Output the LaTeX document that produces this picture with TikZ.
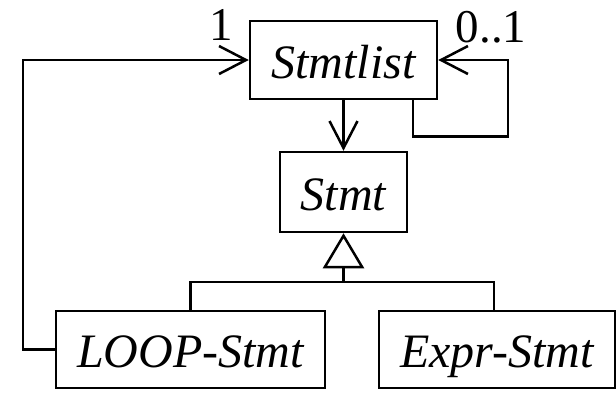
\documentclass[tikz,border=0pt]{standalone}
\usepackage{fontspec}
\setmainfont{Liberation Serif}
\usetikzlibrary{arrows.meta}
\begin{document}
\begin{tikzpicture}[x=1pt,y=-1pt,
  line width=2.5pt,
  classbox/.style={draw, inner sep=0pt, text height=36pt, text depth=0pt,
    font=\fontsize{48}{58}\selectfont\itshape},
  mult/.style={inner sep=0pt, anchor=base, font=\fontsize{47}{56}\selectfont},
  assoc/.style={-{Straight Barb[length=27pt,width=28pt]}},
  inherit/.style={-{Triangle[open,length=35pt,width=41pt]}}]
  \useasboundingbox (0,0) rectangle (616,392);

  % classes
  \node[classbox, minimum width=187pt, minimum height=78pt] (list) at (343.5,60) {Stmtlist};
  \node[classbox, minimum width=127pt, minimum height=80pt] (stmt) at (343.5,192) {Stmt};
  \node[classbox, minimum width=269pt, minimum height=77pt] (loop) at (190.5,349.5) {LOOP-Stmt};
  \node[classbox, minimum width=236pt, minimum height=77pt] (expr) at (497,349.5) {Expr-Stmt};

  % multiplicities
  \node[mult] (m1) at (221.5,40) {1};
  \node[mult] (m2) at (491,42) {0..1};

  % associations
  \draw[assoc] (loop.west) -- ++(-32,0) |- (list.west);
  \draw[assoc] ([xshift=69.5pt]list.south) -- ++(0,36) -- ++(95,0) |- (list.east);
  \draw[assoc] (list.south) -- (stmt.north);

  % generalisation
  \coordinate (j) at (343.5,282);
  \draw[inherit] (j) -- (stmt.south);
  \draw (loop.north) |- (j) -| ([xshift=-3pt]expr.north);
\end{tikzpicture}
\end{document}
